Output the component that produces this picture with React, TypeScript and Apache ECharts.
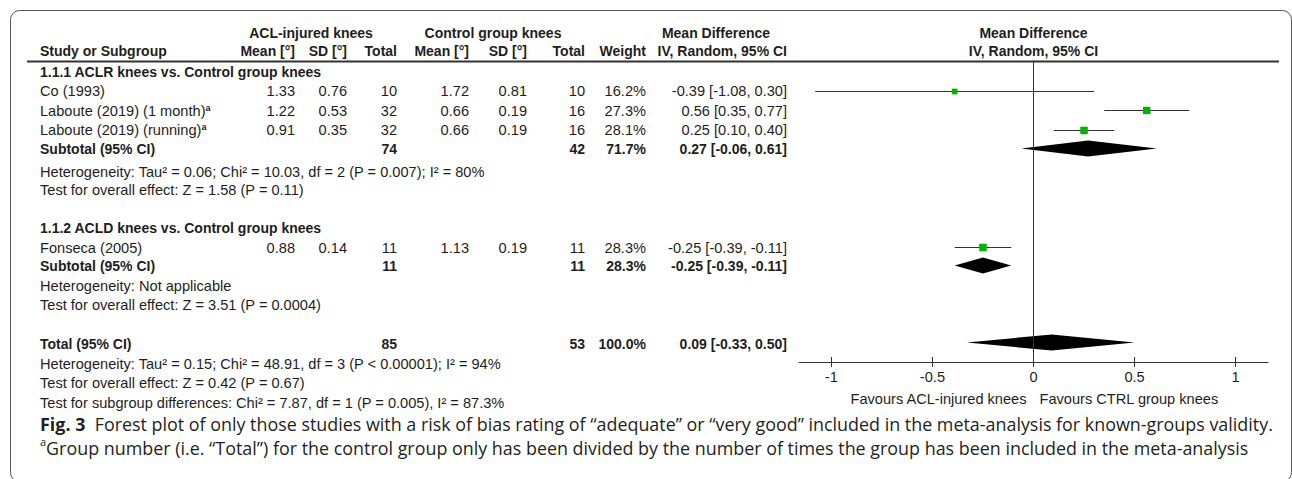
import React, { useEffect, useRef } from "react";
import * as echarts from "echarts";

// ---------------- DATA ----------------
const studyNames = ["Co (1993)", "Laboute (2019) (1 month)", "Laboute (2019) (running)", "Fonseca (2005)"];
const studyFootnote = [false, true, true, false];
const aclMean = [1.33, 1.22, 0.91, 0.88];
const aclSD = [0.76, 0.53, 0.35, 0.14];
const aclN = [10, 32, 32, 11];
const ctrlMean = [1.72, 0.66, 0.66, 1.13];
const ctrlSD = [0.81, 0.19, 0.19, 0.19];
const ctrlN = [10, 16, 16, 11];
const studyWeight = [16.2, 27.3, 28.1, 28.3];
const studyMD = [-0.39, 0.56, 0.25, -0.25];
const studyLo = [-1.08, 0.35, 0.1, -0.39];
const studyHi = [0.3, 0.77, 0.4, -0.11];

const groupTitles = ["1.1.1 ACLR knees vs. Control group knees", "1.1.2 ACLD knees vs. Control group knees"];
const groupAclN = [74, 11];
const groupCtrlN = [42, 11];
const groupWeight = [71.7, 28.3];
const groupMD = [0.27, -0.25];
const groupLo = [-0.06, -0.39];
const groupHi = [0.61, -0.11];
const groupHet = [
  "Heterogeneity: Tau² = 0.06; Chi² = 10.03, df = 2 (P = 0.007); I² = 80%",
  "Heterogeneity: Not applicable",
];
const groupTest = ["Test for overall effect: Z = 1.58 (P = 0.11)", "Test for overall effect: Z = 3.51 (P = 0.0004)"];

const totalAclN = 85;
const totalCtrlN = 53;
const totalWeight = 100.0;
const totalMD = 0.09;
const totalLo = -0.33;
const totalHi = 0.5;
const totalNotes = [
  "Heterogeneity: Tau² = 0.15; Chi² = 48.91, df = 3 (P < 0.00001); I² = 94%",
  "Test for overall effect: Z = 0.42 (P = 0.67)",
  "Test for subgroup differences: Chi² = 7.87, df = 1 (P = 0.005), I² = 87.3%",
];

const axisTicks = [-1, -0.5, 0, 0.5, 1];
const favoursLeft = "Favours ACL-injured knees";
const favoursRight = "Favours CTRL group knees";

const headerGroups = ["ACL-injured knees", "Control group knees", "Mean Difference"];
const headerCols = ["Study or Subgroup", "Mean [°]", "SD [°]", "Total", "Mean [°]", "SD [°]", "Total", "Weight", "IV, Random, 95% CI"];
const plotHeader = ["Mean Difference", "IV, Random, 95% CI"];
const captionBold = "Fig. 3";
const captionLine1 =
  "Forest plot of only those studies with a risk of bias rating of “adequate” or “very good” included in the meta-analysis for known-groups validity.";
const captionLine2 =
  "Group number (i.e. “Total”) for the control group only has been divided by the number of times the group has been included in the meta-analysis";

// ---------------- LAYOUT ----------------
const W = 1292;
const H = 479;
const FONT = '"Liberation Sans", Arial, sans-serif';
const FS = 14.6;
const FSB = 14;
const INK = "#1e1e1e";
const X_MIN = -1.16;
const X_MAX = 1.16;
const GRID_LEFT = 799;
const GRID_W = 469;
const GRID_TOP = 62;
const GRID_BOTTOM_Y = 362;
const COL = { name: 40, aclMean: 295, aclSD: 347, aclN: 397, ctrlMean: 469, ctrlSD: 527, ctrlN: 585, weight: 646, ci: 787 };
const HDR = { g1: 311, g2: 493, g3: 716 };
const ROW = {
  h1: 33,
  h2: 51,
  rule: 61.5,
  studies: [91, 110.5, 130, 247.5],
  groupTitle: [72, 228],
  groupSub: [149, 266],
  groupHet: [171.5, 286],
  groupTest: [190, 305],
  total: 344,
  totalNotes: [364, 383, 402.5],
  favours: 399,
  capTop: 411.5,
};
const DIAMOND_Y = [148.5, 265.5, 342.5];
const SQUARE_K = 1.42;
const CAP_FS = 17.9;
const CAP_LH = 24.5;

const fmt2 = (v: number) => v.toFixed(2);
const ciText = (m: number, l: number, h: number) => `${fmt2(m)} [${fmt2(l)}, ${fmt2(h)}]`;

function txt(x: number, y: number, text: string, align: string, bold = false, extra: any = {}) {
  return {
    type: "text",
    x,
    y,
    silent: true,
    style: {
      text,
      fill: INK,
      fontSize: bold ? FSB : FS,
      fontFamily: FONT,
      fontWeight: bold ? "bold" : "normal",
      align,
      verticalAlign: "middle",
      ...extra,
    },
  };
}

function buildOption() {
  const zeroX = GRID_LEFT + ((0 - X_MIN) / (X_MAX - X_MIN)) * GRID_W;
  const g: any[] = [];
  // frame
  g.push({
    type: "rect",
    silent: true,
    shape: { x: 10.5, y: 10.5, width: 1281, height: 471, r: 9 },
    style: { fill: "none", stroke: "#555", lineWidth: 1 },
  });
  // header rule
  g.push({
    type: "line",
    silent: true,
    shape: { x1: 27, y1: ROW.rule, x2: 1279, y2: ROW.rule },
    style: { stroke: "#333", lineWidth: 2 },
  });
  // headers
  g.push(txt(HDR.g1, ROW.h1, headerGroups[0], "center", true));
  g.push(txt(HDR.g2, ROW.h1, headerGroups[1], "center", true));
  g.push(txt(HDR.g3, ROW.h1, headerGroups[2], "center", true));
  g.push(txt(zeroX, ROW.h1, plotHeader[0], "center", true));
  g.push(txt(zeroX, ROW.h2, plotHeader[1], "center", true));
  const colX = [COL.name, COL.aclMean, COL.aclSD, COL.aclN, COL.ctrlMean, COL.ctrlSD, COL.ctrlN, COL.weight, COL.ci];
  headerCols.forEach((h, i) => g.push(txt(colX[i], ROW.h2, h, i === 0 ? "left" : "right", true)));

  // groups
  groupTitles.forEach((t, i) => {
    g.push(txt(COL.name, ROW.groupTitle[i], t, "left", true));
    g.push(txt(COL.name, ROW.groupSub[i], "Subtotal (95% CI)", "left", true));
    g.push(txt(COL.aclN, ROW.groupSub[i], String(groupAclN[i]), "right", true));
    g.push(txt(COL.ctrlN, ROW.groupSub[i], String(groupCtrlN[i]), "right", true));
    g.push(txt(COL.weight, ROW.groupSub[i], groupWeight[i].toFixed(1) + "%", "right", true));
    g.push(txt(COL.ci, ROW.groupSub[i], ciText(groupMD[i], groupLo[i], groupHi[i]), "right", true));
    g.push(txt(COL.name, ROW.groupHet[i], groupHet[i], "left"));
    g.push(txt(COL.name, ROW.groupTest[i], groupTest[i], "left"));
  });

  // studies
  studyNames.forEach((n, i) => {
    const y = ROW.studies[i];
    g.push(
      txt(COL.name, y, studyFootnote[i] ? n + "{sup|a}" : n, "left", false, {
        rich: { sup: { fontSize: 9, fontWeight: "bold", fontFamily: FONT, fill: INK, verticalAlign: "top" } },
      })
    );
    g.push(txt(COL.aclMean, y, fmt2(aclMean[i]), "right"));
    g.push(txt(COL.aclSD, y, fmt2(aclSD[i]), "right"));
    g.push(txt(COL.aclN, y, String(aclN[i]), "right"));
    g.push(txt(COL.ctrlMean, y, fmt2(ctrlMean[i]), "right"));
    g.push(txt(COL.ctrlSD, y, fmt2(ctrlSD[i]), "right"));
    g.push(txt(COL.ctrlN, y, String(ctrlN[i]), "right"));
    g.push(txt(COL.weight, y, studyWeight[i].toFixed(1) + "%", "right"));
    g.push(txt(COL.ci, y, ciText(studyMD[i], studyLo[i], studyHi[i]), "right"));
  });

  // total
  g.push(txt(COL.name, ROW.total, "Total (95% CI)", "left", true));
  g.push(txt(COL.aclN, ROW.total, String(totalAclN), "right", true));
  g.push(txt(COL.ctrlN, ROW.total, String(totalCtrlN), "right", true));
  g.push(txt(COL.weight, ROW.total, totalWeight.toFixed(1) + "%", "right", true));
  g.push(txt(COL.ci, ROW.total, ciText(totalMD, totalLo, totalHi), "right", true));
  totalNotes.forEach((t, i) => g.push(txt(COL.name, ROW.totalNotes[i], t, "left")));

  // favours
  g.push(txt(zeroX - 7, ROW.favours, favoursLeft, "right"));
  g.push(txt(zeroX + 6, ROW.favours, favoursRight, "left"));

  // caption (one two-line text block)
  const capFont = '"Open Sans", "Noto Sans", sans-serif';
  g.push({
    type: "text",
    x: 40,
    y: ROW.capTop,
    silent: true,
    style: {
      text: `{b|${captionBold}}{t|  ${captionLine1}}\n{sup|a}{t|${captionLine2}}`,
      fill: "#231f20",
      fontSize: CAP_FS,
      lineHeight: CAP_LH,
      fontFamily: capFont,
      align: "left",
      verticalAlign: "top",
      rich: {
        b: { fontWeight: "bold", fontSize: CAP_FS, lineHeight: CAP_LH, fontFamily: capFont, fill: "#231f20" },
        t: { fontSize: CAP_FS, lineHeight: CAP_LH, fontFamily: capFont, fill: "#231f20" },
        sup: { fontSize: 11, lineHeight: 14, fontFamily: capFont, fill: "#231f20", verticalAlign: "top" },
      },
    },
  });

  const studyData = studyMD.map((m, i) => [m, studyLo[i], studyHi[i], ROW.studies[i], studyWeight[i]]);
  const diamondData = [
    [groupMD[0], groupLo[0], groupHi[0], DIAMOND_Y[0]],
    [groupMD[1], groupLo[1], groupHi[1], DIAMOND_Y[1]],
    [totalMD, totalLo, totalHi, DIAMOND_Y[2]],
  ];

  const crisp = (v: number) => Math.round(v - 0.5) + 0.5;

  return {
    animation: false,
    backgroundColor: "#ffffff",
    grid: {
      left: GRID_LEFT,
      width: GRID_W,
      top: GRID_TOP,
      height: GRID_BOTTOM_Y - GRID_TOP,
      outerBoundsMode: "none",
      containLabel: false,
    },
    xAxis: [
      {
        type: "value",
        min: X_MIN,
        max: X_MAX,
        position: "bottom",
        axisLine: { show: true, onZero: false, lineStyle: { color: "#333", width: 1 } },
        axisTick: { show: true, inside: false, length: 5, customValues: axisTicks, lineStyle: { color: "#333" } },
        axisLabel: {
          show: true,
          customValues: axisTicks,
          color: INK,
          fontSize: FS,
          fontFamily: FONT,
          margin: 7,
        },
        splitLine: { show: false },
      },
      {
        type: "value",
        min: X_MIN,
        max: X_MAX,
        position: "bottom",
        axisLine: { show: false, onZero: false },
        axisTick: { show: true, inside: true, length: 5, customValues: axisTicks, lineStyle: { color: "#333" } },
        axisLabel: { show: false },
        splitLine: { show: false },
      },
    ],
    yAxis: { type: "value", min: GRID_TOP, max: GRID_BOTTOM_Y, inverse: true, show: false },
    graphic: g,
    series: [
      {
        type: "custom",
        name: "studies",
        xAxisIndex: 0,
        encode: { x: [0, 1, 2], y: 3 },
        data: studyData,
        renderItem: (params: any, api: any) => {
          const y = api.value(3);
          const p1 = api.coord([api.value(1), y]);
          const p2 = api.coord([api.value(2), y]);
          const c = api.coord([api.value(0), y]);
          const s = SQUARE_K * Math.sqrt(api.value(4));
          const yy = crisp(c[1]);
          return {
            type: "group",
            children: [
              { type: "line", shape: { x1: p1[0], y1: yy, x2: p2[0], y2: yy }, style: { stroke: "#333", lineWidth: 1 } },
              { type: "rect", shape: { x: c[0] - s / 2, y: yy - s / 2, width: s, height: s }, style: { fill: "#00b300" } },
            ],
          };
        },
        markLine: {
          silent: true,
          symbol: ["none", "none"],
          label: { show: false },
          lineStyle: { color: "#333", type: "solid", width: 1 },
          data: [{ xAxis: 0 }],
        },
        z: 3,
      },
      {
        type: "custom",
        name: "pooled",
        xAxisIndex: 0,
        encode: { x: [0, 1, 2], y: 3 },
        data: diamondData,
        renderItem: (params: any, api: any) => {
          const y = api.value(3);
          const l = api.coord([api.value(1), y]);
          const h = api.coord([api.value(2), y]);
          const m = api.coord([api.value(0), y]);
          const d = 8;
          return {
            type: "polygon",
            shape: { points: [[l[0], m[1]], [m[0], m[1] - d], [h[0], m[1]], [m[0], m[1] + d]] },
            style: { fill: "#000" },
          };
        },
        z: 4,
      },
    ],
  };
}

export default function App() {
  const ref = useRef<HTMLDivElement>(null);
  useEffect(() => {
    if (!ref.current) return;
    const chart = echarts.init(ref.current, undefined, { renderer: "svg" });
    chart.setOption(buildOption() as any);
    return () => chart.dispose();
  }, []);
  return (
    <div
      ref={ref}
      style={{ position: "fixed", left: 0, top: 0, width: W, height: H, background: "#fff" }}
    />
  );
}
